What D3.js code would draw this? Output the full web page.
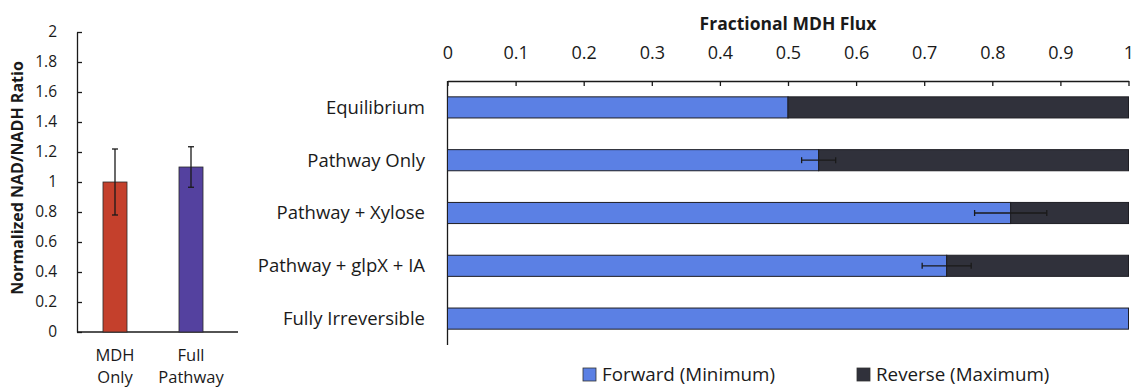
<!DOCTYPE html>
<html>
<head>
<meta charset="utf-8">
<script src="https://cdn.jsdelivr.net/npm/d3@7"></script>
<style>
  html, body { margin: 0; padding: 0; background: #fff; }
  svg text { font-family: "Open Sans", Lato, sans-serif; fill: #1a1a1a; }
</style>
</head>
<body>
<svg id="chart" width="1136" height="388"></svg>
<script>
// NAD/NADH ratio (left panel)
const ratioCategories = [["MDH", "Only"], ["Full", "Pathway"]];
const ratioValues = [1.0, 1.1];
const ratioErrors = [0.22, 0.135];
const ratioColors = ["#c4402c", "#54419f"];
const ratioTicks = [0, 0.2, 0.4, 0.6, 0.8, 1, 1.2, 1.4, 1.6, 1.8, 2];

// Fractional MDH flux (right panel)
const fluxCategories = ["Equilibrium", "Pathway Only", "Pathway + Xylose", "Pathway + glpX + IA", "Fully Irreversible"];
const forwardValues = [0.5, 0.545, 0.827, 0.733, 1.0];
const forwardErrors = [0, 0.025, 0.053, 0.036, 0];
const fluxTicks = [0, 0.1, 0.2, 0.3, 0.4, 0.5, 0.6, 0.7, 0.8, 0.9, 1];
const seriesNames = ["Forward (Minimum)", "Reverse (Maximum)"];
const seriesColors = ["#5b80e4", "#30313b"];

const svg = d3.select("#chart");
const ink = "#1a1a1a";

// ---------- left panel ----------
const yR = d3.scaleLinear().domain([0, 2]).range([332, 32]);
const xR = d3.scaleBand().domain(d3.range(ratioValues.length))
  .range([77, 229]).paddingInner(0.684).paddingOuter(0.342);

const left = svg.append("g");

left.append("g")
  .attr("transform", "translate(77,0)")
  .call(d3.axisLeft(yR).tickValues(ratioTicks).tickSizeInner(-5).tickSizeOuter(0)
    .tickPadding(20).tickFormat(d => String(d)))
  .call(g => g.selectAll("text").attr("font-size", 15.5).style("fill", ink))
  .call(g => g.selectAll("line,path").attr("stroke", ink).attr("stroke-width", 1.3));

left.append("line")
  .attr("x1", 77).attr("x2", 238).attr("y1", yR(0)).attr("y2", yR(0))
  .attr("stroke", ink).attr("stroke-width", 1.3);

left.selectAll("rect.bar").data(ratioValues).join("rect")
  .attr("class", "bar")
  .attr("x", (d, i) => xR(i)).attr("width", xR.bandwidth())
  .attr("y", d => yR(d)).attr("height", d => yR(0) - yR(d))
  .attr("fill", (d, i) => ratioColors[i])
  .attr("stroke", "#2a2a2a").attr("stroke-width", 0.8);

const cx = i => xR(i) + xR.bandwidth() / 2;
left.selectAll("g.err").data(ratioValues).join("g").attr("class", "err")
  .each(function (d, i) {
    const g = d3.select(this);
    const e = ratioErrors[i];
    g.append("line").attr("x1", cx(i)).attr("x2", cx(i))
      .attr("y1", yR(d + e)).attr("y2", yR(d - e));
    [d + e, d - e].forEach(v => g.append("line")
      .attr("x1", cx(i) - 3).attr("x2", cx(i) + 3)
      .attr("y1", yR(v)).attr("y2", yR(v)));
    g.selectAll("line").attr("stroke", ink).attr("stroke-width", 1.3);
  });

left.selectAll("text.cat").data(ratioCategories).join("text")
  .attr("class", "cat")
  .attr("text-anchor", "middle").attr("font-size", 16.5)
  .each(function (d, i) {
    d3.select(this).selectAll("tspan").data(d).join("tspan")
      .attr("x", cx(i)).attr("y", (t, j) => 361 + j * 22).text(t => t);
  });

left.append("text")
  .attr("transform", "translate(23,178) rotate(-90)")
  .attr("text-anchor", "middle").attr("font-size", 16).attr("font-weight", 700)
  .text("Normalized NAD/NADH Ratio");

// ---------- right panel ----------
const xF = d3.scaleLinear().domain([0, 1]).range([447.5, 1128.5]);
const yF = d3.scaleBand().domain(fluxCategories).range([81, 345])
  .paddingInner(0.6).paddingOuter(0.3);

const right = svg.append("g");

right.append("g")
  .attr("transform", "translate(0,81)")
  .call(d3.axisTop(xF).tickValues(fluxTicks).tickSizeInner(-5).tickSizeOuter(0)
    .tickPadding(22).tickFormat(d => String(d)))
  .call(g => g.selectAll("text").attr("font-size", 18).style("fill", ink))
  .call(g => g.selectAll("line,path").attr("stroke", ink).attr("stroke-width", 1.3));

right.append("line")
  .attr("x1", xF(0)).attr("x2", xF(0)).attr("y1", 81).attr("y2", 345)
  .attr("stroke", ink).attr("stroke-width", 1.3);

right.append("text")
  .attr("x", xF(0.5)).attr("y", 30).attr("text-anchor", "middle")
  .attr("font-size", 17.5).attr("font-weight", 700)
  .text("Fractional MDH Flux");

// stacked forward / reverse segments
const stackRows = fluxCategories.map((c, i) => ({ cat: c, fwd: forwardValues[i], rev: 1 - forwardValues[i] }));
const stacked = d3.stack().keys(["fwd", "rev"])(stackRows);

right.selectAll("g.series").data(stacked).join("g")
  .attr("class", "series")
  .attr("fill", (d, i) => seriesColors[i])
  .selectAll("rect").data(d => d.filter(p => p[1] - p[0] > 0)).join("rect")
  .attr("x", p => xF(p[0])).attr("width", p => xF(p[1]) - xF(p[0]))
  .attr("y", p => yF(p.data.cat)).attr("height", yF.bandwidth())
  .attr("stroke", "#1e1e24").attr("stroke-width", 1);

right.selectAll("g.ferr").data(fluxCategories.filter((c, i) => forwardErrors[i] > 0)).join("g")
  .attr("class", "ferr")
  .each(function (c) {
    const i = fluxCategories.indexOf(c);
    const g = d3.select(this);
    const cy = yF(c) + yF.bandwidth() / 2;
    const lo = forwardValues[i] - forwardErrors[i], hi = forwardValues[i] + forwardErrors[i];
    g.append("line").attr("x1", xF(lo)).attr("x2", xF(hi)).attr("y1", cy).attr("y2", cy);
    [lo, hi].forEach(v => g.append("line").attr("x1", xF(v)).attr("x2", xF(v))
      .attr("y1", cy - 3).attr("y2", cy + 3));
    g.selectAll("line").attr("stroke", "#1a1a1a").attr("stroke-width", 1.3);
  });

right.selectAll("text.fcat").data(fluxCategories).join("text")
  .attr("class", "fcat")
  .attr("x", 425).attr("y", c => yF(c) + yF.bandwidth() / 2)
  .attr("dy", "0.35em").attr("text-anchor", "end").attr("font-size", 18.5)
  .text(c => c);

// legend
const legendX = [583, 857];
const legend = right.selectAll("g.legend").data(seriesNames).join("g")
  .attr("class", "legend")
  .attr("transform", (d, i) => `translate(${legendX[i]},368)`);
legend.append("rect").attr("width", 13).attr("height", 13)
  .attr("fill", (d, i) => seriesColors[i]).attr("stroke", "#333").attr("stroke-width", 0.8);
legend.append("text").attr("x", 19).attr("y", 6.5).attr("dy", "0.35em")
  .attr("font-size", 18.8).text(d => d);
</script>
</body>
</html>
